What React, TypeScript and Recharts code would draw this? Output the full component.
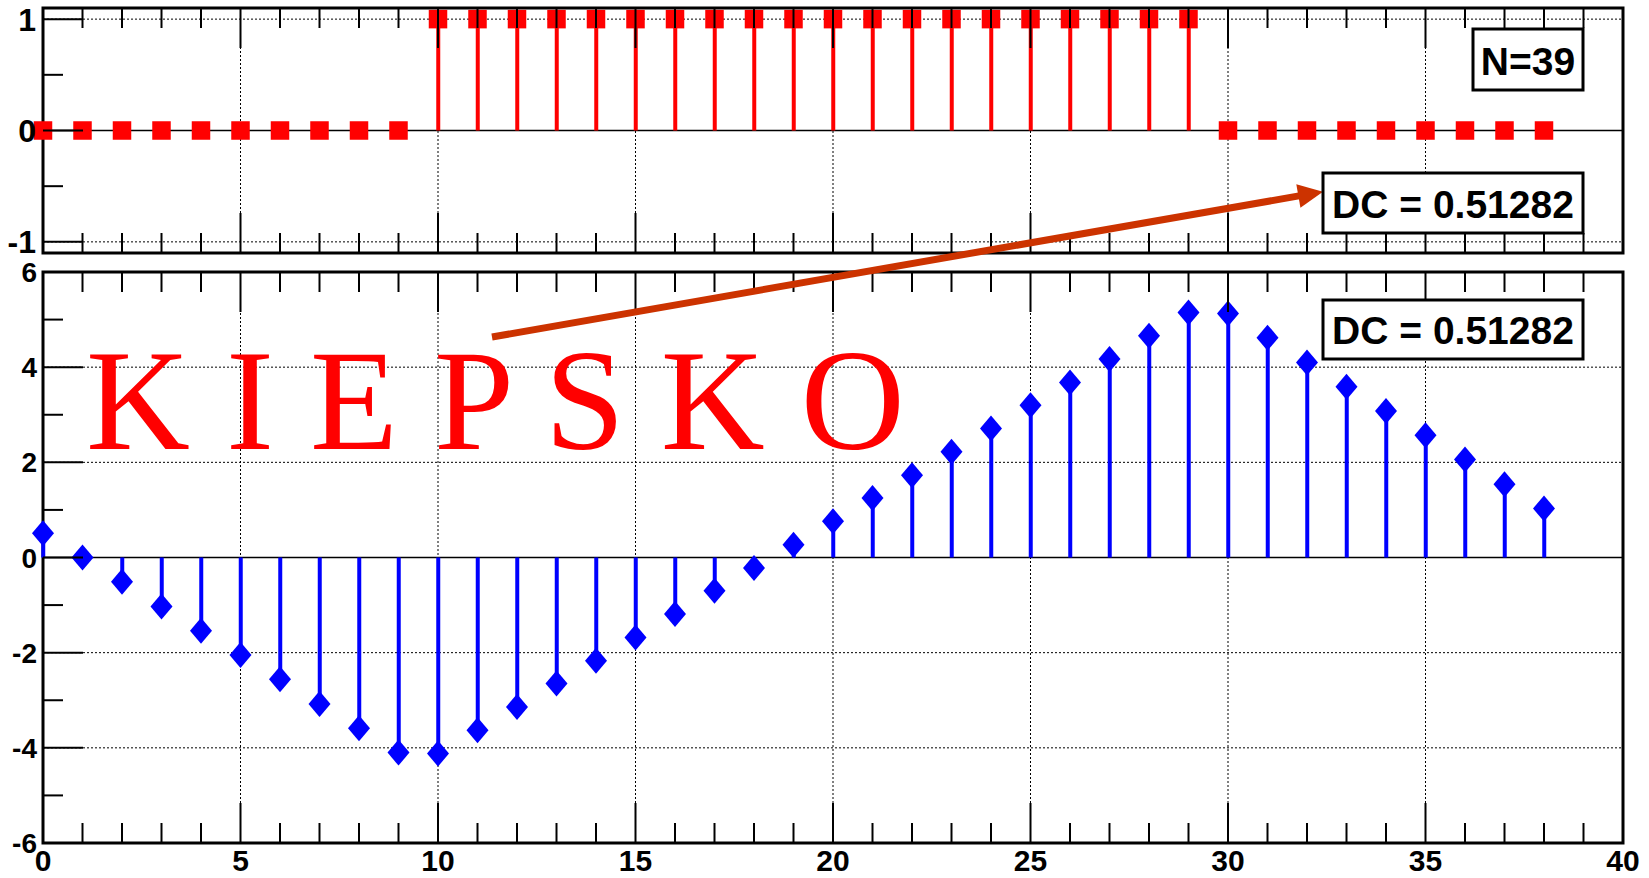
import React from "react";
import { ComposedChart, XAxis, YAxis, Bar, Scatter, ReferenceLine, ReferenceArea } from "recharts";

// sample index n = 0..38
const samples = [
  0, 1, 2, 3, 4, 5, 6, 7, 8, 9, 10, 11, 12, 13, 14, 15, 16, 17, 18, 19,
  20, 21, 22, 23, 24, 25, 26, 27, 28, 29, 30, 31, 32, 33, 34, 35, 36, 37, 38,
];

// top panel: rectangular window
const windowValues = [
  0, 0, 0, 0, 0, 0, 0, 0, 0, 0, 1, 1, 1, 1, 1, 1, 1, 1, 1, 1,
  1, 1, 1, 1, 1, 1, 1, 1, 1, 1, 0, 0, 0, 0, 0, 0, 0, 0, 0,
];

// bottom panel: values
const sumValues = [
  0.51, 0.0, -0.51, -1.03, -1.54, -2.05, -2.56, -3.08, -3.59, -4.1,
  -4.12, -3.63, -3.14, -2.65, -2.17, -1.68, -1.19, -0.7, -0.22, 0.27,
  0.76, 1.25, 1.73, 2.22, 2.71, 3.2, 3.68, 4.17, 4.66, 5.15,
  5.13, 4.62, 4.1, 3.59, 3.08, 2.57, 2.06, 1.54, 1.03,
];

const xTicks = [
  0, 1, 2, 3, 4, 5, 6, 7, 8, 9, 10, 11, 12, 13, 14, 15, 16, 17, 18, 19, 20,
  21, 22, 23, 24, 25, 26, 27, 28, 29, 30, 31, 32, 33, 34, 35, 36, 37, 38, 39, 40,
];
const xGrid = [5, 10, 15, 20, 25, 30, 35];

const topYTicks = [-1, -0.5, 0, 0.5, 1];
const topYMajor = [-1, 0, 1];
const topYGrid = [-1, 1];

const botYTicks = [-6, -5, -4, -3, -2, -1, 0, 1, 2, 3, 4, 5, 6];
const botYMajor = [-6, -4, -2, 0, 2, 4, 6];
const botYGrid = [-4, -2, 2, 4];

const dcLabel = "DC = 0.51282";
const nLabel = "N=39";

const topData = samples.map((n, i) => ({ n, v: windowValues[i] }));
const botData = samples.map((n, i) => ({ n, v: sumValues[i] }));

const SANS = "'Liberation Sans', Arial, Helvetica, sans-serif";
const W = 1649;

const XTick = (props: any) => {
  const { x, y, payload, side, showLabel } = props;
  const major = payload.value % 5 === 0;
  const len = major ? 40 : 20;
  const dir = side === "top" ? 1 : -1;
  return (
    <g>
      <line x1={x} x2={x} y1={y} y2={y + dir * len} stroke="#000" strokeWidth={2} />
      {showLabel && major && (
        <text x={x} y={y + 28} textAnchor="middle" fontSize={30} fontWeight="bold" fontFamily={SANS} fill="#000">
          {payload.value}
        </text>
      )}
    </g>
  );
};

const YTick = (props: any) => {
  const { x, y, payload, side, majors, fontSize, gap } = props;
  const major = majors.includes(payload.value);
  const len = major ? 40 : 20;
  const dir = side === "left" ? 1 : -1;
  return (
    <g>
      <line x1={x} x2={x + dir * len} y1={y} y2={y} stroke="#000" strokeWidth={2} />
      {side === "left" && major && (
        <text x={x - gap} y={y + fontSize * 0.36} textAnchor="end" fontSize={fontSize} fontWeight="bold" fontFamily={SANS} fill="#000">
          {payload.value}
        </text>
      )}
    </g>
  );
};

const Square = (props: any) => {
  const { cx, cy } = props;
  const s = 18.5;
  return <rect x={cx - s / 2} y={cy - s / 2} width={s} height={s} fill="#ff0000" />;
};

const Diamond = (props: any) => {
  const { cx, cy } = props;
  return <polygon points={`${cx},${cy - 13} ${cx + 11},${cy} ${cx},${cy + 13} ${cx - 11},${cy}`} fill="#0000ff" />;
};

function Panel({ data, height, top, bottomAxis, domain, yTicks, yMajor, yGrid, labelSize, labelGap, color, marker, showX }: any) {
  return (
    <ComposedChart width={W} height={height} data={data} margin={{ top, right: 25, bottom: 0, left: 0 }}>
      {xGrid.map((g) => (
        <ReferenceLine key={"gx" + g} x={g} stroke="#000" strokeWidth={1} strokeDasharray="2 2" zIndex={-100} />
      ))}
      {yGrid.map((g: number) => (
        <ReferenceLine key={"gy" + g} y={g} stroke="#000" strokeWidth={1} strokeDasharray="2 2" zIndex={-100} />
      ))}
      <ReferenceLine y={0} stroke="#000" strokeWidth={1.5} zIndex={-100} />
      <XAxis
        dataKey="n"
        type="number"
        domain={[0, 40]}
        ticks={xTicks}
        interval={0}
        height={bottomAxis}
        tickSize={0}
        tickMargin={0}
        tickLine={false}
        axisLine={false}
        tick={(p: any) => <XTick {...p} side="bottom" showLabel={showX} />}
      />
      <XAxis
        xAxisId="top"
        orientation="top"
        dataKey="n"
        type="number"
        domain={[0, 40]}
        ticks={xTicks}
        interval={0}
        height={1}
        tickSize={0}
        tickMargin={0}
        tickLine={false}
        axisLine={false}
        tick={(p: any) => <XTick {...p} side="top" showLabel={false} />}
      />
      <YAxis
        type="number"
        domain={domain}
        ticks={yTicks}
        interval={0}
        width={43}
        tickSize={0}
        tickMargin={0}
        tickLine={false}
        axisLine={false}
        tick={(p: any) => <YTick {...p} side="left" majors={yMajor} fontSize={labelSize} gap={labelGap} />}
      />
      <YAxis
        yAxisId="right"
        orientation="right"
        type="number"
        domain={domain}
        ticks={yTicks}
        interval={0}
        width={1}
        tickSize={0}
        tickMargin={0}
        tickLine={false}
        axisLine={false}
        tick={(p: any) => <YTick {...p} side="right" majors={yMajor} fontSize={labelSize} gap={labelGap} />}
      />
      <ReferenceArea x1={0} x2={40} y1={domain[0]} y2={domain[1]} fill="none" stroke="#000" strokeWidth={3} zIndex={520} />
      <Bar dataKey="v" fill={color} barSize={4} isAnimationActive={false} zIndex={550} />
      <Scatter dataKey="v" shape={marker} isAnimationActive={false} zIndex={600} />
    </ComposedChart>
  );
}

// arrow geometry (annotation)
const arrowFrom = { x: 492, y: 337 };
const arrowTo = { x: 1323, y: 191.7 };

function Annotations() {
  const dx = arrowTo.x - arrowFrom.x;
  const dy = arrowTo.y - arrowFrom.y;
  const L = Math.sqrt(dx * dx + dy * dy);
  const ux = dx / L;
  const uy = dy / L;
  const headLen = 25;
  const headHalf = 12;
  const bx = arrowTo.x - ux * headLen;
  const by = arrowTo.y - uy * headLen;
  const px = -uy;
  const py = ux;
  return (
    <svg width={W} height={878} style={{ position: "absolute", left: 0, top: 0, pointerEvents: "none" }}>
      <text x={86} y={449} fontFamily="'Liberation Serif', 'Times New Roman', serif" fontSize={144} fill="#ff0000" style={{ whiteSpace: "pre" }}>
        K I E P S K O
      </text>
      <line x1={arrowFrom.x} y1={arrowFrom.y} x2={bx + ux * 2} y2={by + uy * 2} stroke="#cc3300" strokeWidth={7} />
      <polygon
        points={`${arrowTo.x},${arrowTo.y} ${bx + px * headHalf},${by + py * headHalf} ${bx - px * headHalf},${by - py * headHalf}`}
        fill="#cc3300"
      />
      <rect x={1473} y={29} width={110} height={61} fill="#fff" stroke="#000" strokeWidth={3} />
      <text x={1528} y={75} textAnchor="middle" fontFamily={SANS} fontWeight="bold" fontSize={39} fill="#000">
        {nLabel}
      </text>
      <rect x={1323} y={173} width={260} height={60} fill="#fff" stroke="#000" strokeWidth={3} />
      <text x={1453} y={218} textAnchor="middle" fontFamily={SANS} fontWeight="bold" fontSize={39} fill="#000">
        {dcLabel}
      </text>
      <rect x={1323} y={300} width={260} height={59} fill="#fff" stroke="#000" strokeWidth={3} />
      <text x={1453} y={344} textAnchor="middle" fontFamily={SANS} fontWeight="bold" fontSize={39} fill="#000">
        {dcLabel}
      </text>
    </svg>
  );
}

export default function App() {
  return (
    <div style={{ position: "absolute", left: 0, top: 0, width: W, height: 878, background: "#fff" }}>
      <div style={{ position: "absolute", left: 0, top: 0 }}>
        <Panel
          data={topData}
          height={264}
          top={7}
          bottomAxis={11}
          domain={[-1.1, 1.1]}
          yTicks={topYTicks}
          yMajor={topYMajor}
          yGrid={topYGrid}
          labelSize={32}
          labelGap={7}
          color="#ff0000"
          marker={Square}
          showX={false}
        />
      </div>
      <div style={{ position: "absolute", left: 0, top: 254 }}>
        <Panel
          data={botData}
          height={624}
          top={17}
          bottomAxis={35}
          domain={[-6, 6]}
          yTicks={botYTicks}
          yMajor={botYMajor}
          yGrid={botYGrid}
          labelSize={28}
          labelGap={6}
          color="#0000ff"
          marker={Diamond}
          showX={true}
        />
      </div>
      <Annotations />
    </div>
  );
}
